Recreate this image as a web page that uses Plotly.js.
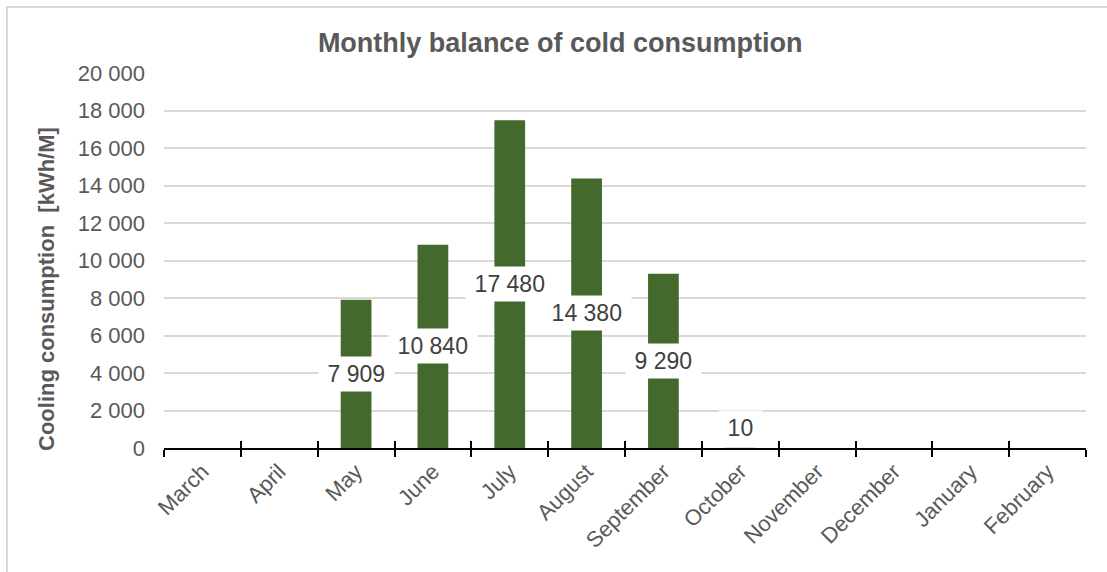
<!DOCTYPE html>
<html>
<head>
<meta charset="utf-8">
<script src="https://cdn.plot.ly/plotly-3.0.1.min.js"></script>
<style>html,body{margin:0;padding:0;background:#fff;}#chart{width:1107px;height:572px;}</style>
</head>
<body>
<div id="chart"></div>
<script>
const months = ["March","April","May","June","July","August","September","October","November","December","January","February"];
const cooling = [null, null, 7909, 10840, 17480, 14380, 9290, 10, null, null, null, null];
const yTicks = [0, 2000, 4000, 6000, 8000, 10000, 12000, 14000, 16000, 18000, 20000];

const FONT = "Arial, 'Liberation Sans', sans-serif";
function fmt(v){ return String(v).replace(/\B(?=(\d{3})+(?!\d))/g, ' '); }

const traces = [
  {
    type: 'bar', x: months, y: cooling,
    marker: {color: '#44692D'},
    hoverinfo: 'x+y'
  },
  {
    type: 'scatter', mode: 'markers', x: months, y: months.map(() => 0),
    xaxis: 'x2', yaxis: 'y', marker: {opacity: 0}, hoverinfo: 'skip', showlegend: false
  }
];

// data labels: centred in bar, kept inside plot for tiny values
const minCenter = 1070;
const annotations = [];
months.forEach((m, i) => {
  const v = cooling[i];
  if (v === null) return;
  annotations.push({
    x: m, y: Math.max(v / 2, minCenter), xref: 'x', yref: 'y',
    text: '\u2009' + fmt(v) + '\u2009', showarrow: false,
    font: {family: FONT, size: 23, color: '#404040'},
    bgcolor: '#ffffff', borderpad: 4
  });
});
annotations.push({
  xref: 'paper', yref: 'paper', x: -0.128, y: 0.424,
  text: 'Cooling consumption\u00a0 [kWh/M]', textangle: -90, showarrow: false,
  font: {family: FONT, size: 22, color: '#595959', weight: 'bold'},
  xanchor: 'center', yanchor: 'middle'
});

const layout = {
  width: 1107, height: 572,
  margin: {l: 164, r: 21, t: 73, b: 124},
  paper_bgcolor: '#ffffff', plot_bgcolor: '#ffffff',
  separators: '. ',
  showlegend: false,
  bargap: 0.6,
  title: {
    text: '<b>Monthly balance of cold consumption</b>',
    x: 0.506, xref: 'container', xanchor: 'center',
    y: 0.925, yref: 'container', yanchor: 'middle',
    font: {family: FONT, size: 27, color: '#595959'}
  },
  xaxis: {
    type: 'category', categoryorder: 'array', categoryarray: months,
    range: [-0.5, 11.5], fixedrange: true,
    showline: true, linecolor: '#000000', linewidth: 2,
    ticks: 'outside', tickson: 'boundaries', ticklen: 7, tickwidth: 2, tickcolor: '#000000',
    tickangle: -45, tickfont: {family: FONT, size: 22, color: '#595959'},
    showgrid: false, zeroline: false
  },
  xaxis2: {
    type: 'category', categoryorder: 'array', categoryarray: months,
    overlaying: 'x', anchor: 'y', side: 'bottom',
    range: [-0.5, 11.5], fixedrange: true,
    showline: false, showticklabels: false,
    ticks: 'inside', tickson: 'boundaries', ticklen: 7, tickwidth: 2, tickcolor: '#000000',
    showgrid: false, zeroline: false
  },
  yaxis: {
    range: [0, 20000], tickvals: yTicks, tickformat: ',d', fixedrange: true,
    showgrid: true, gridcolor: '#d9d9d9', gridwidth: 2,
    zeroline: false, showline: false, ticks: '',
    ticklabelstandoff: 18,
    tickfont: {family: FONT, size: 22, color: '#595959'}
  },
  shapes: [{
    type: 'rect', xref: 'paper', yref: 'paper',
    x0: -0.1703, x1: 1.05, y0: -0.4, y1: 1.176,
    line: {color: '#d9d9d9', width: 2}, fillcolor: 'rgba(0,0,0,0)', layer: 'below'
  }],
  annotations: annotations
};

Plotly.newPlot('chart', traces, layout, {displayModeBar: false, staticPlot: true});
</script>
</body>
</html>
